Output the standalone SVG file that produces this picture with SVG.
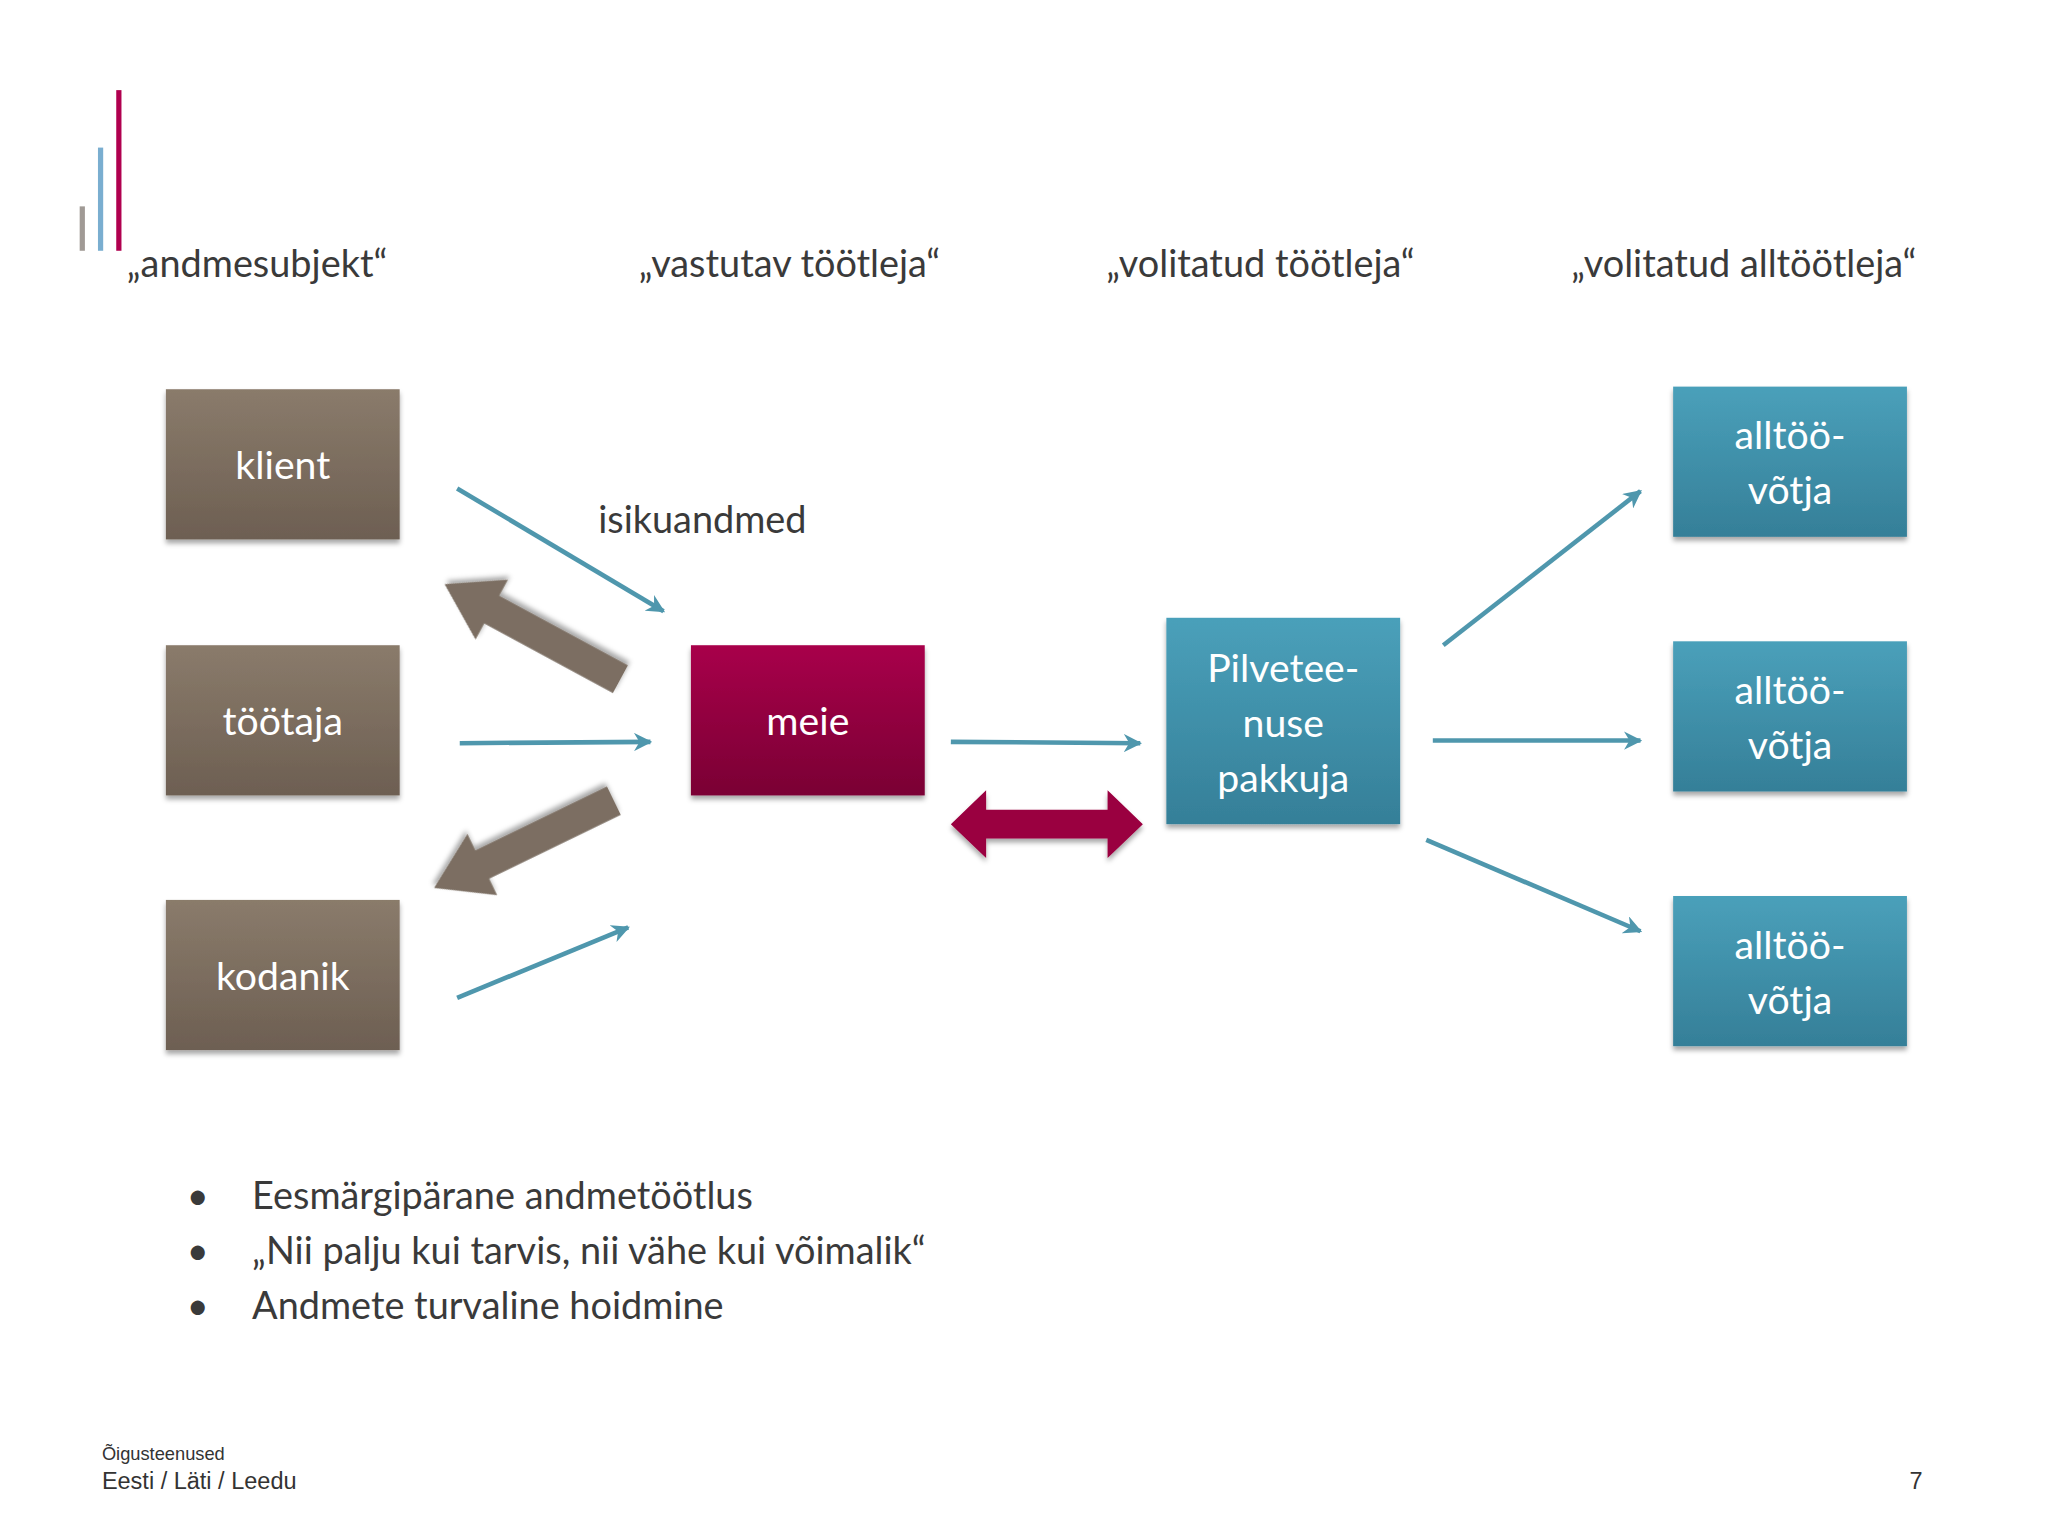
<svg xmlns="http://www.w3.org/2000/svg" width="2048" height="1536" viewBox="0 0 2048 1536">
<defs>
<linearGradient id="gg" x1="0" y1="0" x2="0" y2="1"><stop offset="0" stop-color="#8a7b6b"/><stop offset="1" stop-color="#6d5f52"/></linearGradient>
<linearGradient id="gm" x1="0" y1="0" x2="0" y2="1"><stop offset="0" stop-color="#a8004a"/><stop offset="1" stop-color="#7a0034"/></linearGradient>
<linearGradient id="gb" x1="0" y1="0" x2="0" y2="1"><stop offset="0" stop-color="#4aa0ba"/><stop offset="1" stop-color="#357f98"/></linearGradient>
<marker id="ah" viewBox="0 0 10 10" refX="9" refY="5" markerWidth="4" markerHeight="4" orient="auto"><path d="M0,0 L10,5 L0,10 L3,5 z" fill="#4f97ad"/></marker>
<filter id="sh" x="-10%" y="-10%" width="120%" height="130%"><feDropShadow dx="0" dy="3" stdDeviation="2" flood-opacity="0.35"/></filter>
</defs>
<style>
text{font-family:Lato,"Open Sans",sans-serif;}
.h{font-size:29px;fill:#3a3a3a}
.n{font-size:30px;fill:#ffffff;text-anchor:middle}
.c{stroke:#4f97ad;stroke-width:3.5;fill:none;marker-end:url(#ah)}
</style>
<rect width="2048" height="1536" fill="#ffffff"/>
<g transform="scale(1.30612)">
<rect x="61" y="158" width="4" height="34" fill="#a09a95"/>
<rect x="75" y="113" width="4" height="79" fill="#7aaed0"/>
<rect x="89" y="69" width="4" height="123" fill="#b0004f"/>
<text class="h" x="97" y="212">„andmesubjekt“</text>
<text class="h" x="489" y="212">„vastutav töötleja“</text>
<text class="h" x="847" y="212">„volitatud töötleja“</text>
<text class="h" x="1203" y="212">„volitatud alltöötleja“</text>
<text class="h" x="458" y="408">isikuandmed</text>
<g id="klient"><rect x="127" y="298" width="179" height="115" fill="url(#gg)" filter="url(#sh)"/><text class="n" x="216.5" y="367">klient</text></g>
<g id="tootaja"><rect x="127" y="494" width="179" height="115" fill="url(#gg)" filter="url(#sh)"/><text class="n" x="216.5" y="563">töötaja</text></g>
<g id="kodanik"><rect x="127" y="689" width="179" height="115" fill="url(#gg)" filter="url(#sh)"/><text class="n" x="216.5" y="758">kodanik</text></g>
<g id="meie"><rect x="529" y="494" width="179" height="115" fill="url(#gm)" filter="url(#sh)"/><text class="n" x="618.5" y="563">meie</text></g>
<g id="pilv"><rect x="893" y="473" width="179" height="158" fill="url(#gb)" filter="url(#sh)"/><text class="n" x="982.5" y="522">Pilvetee-</text><text class="n" x="982.5" y="564">nuse</text><text class="n" x="982.5" y="606">pakkuja</text></g>
<g id="a1"><rect x="1281" y="296" width="179" height="115" fill="url(#gb)" filter="url(#sh)"/><text class="n" x="1370.5" y="344">alltöö-</text><text class="n" x="1370.5" y="386">võtja</text></g>
<g id="a2"><rect x="1281" y="491" width="179" height="115" fill="url(#gb)" filter="url(#sh)"/><text class="n" x="1370.5" y="539">alltöö-</text><text class="n" x="1370.5" y="581">võtja</text></g>
<g id="a3"><rect x="1281" y="686" width="179" height="115" fill="url(#gb)" filter="url(#sh)"/><text class="n" x="1370.5" y="734">alltöö-</text><text class="n" x="1370.5" y="776">võtja</text></g>
<g id="connectors">
<line class="c" x1="350" y1="374" x2="508" y2="468"/>
<line class="c" x1="352" y1="569" x2="498" y2="568"/>
<line class="c" x1="350" y1="764" x2="481" y2="710"/>
<line class="c" x1="728" y1="568" x2="873" y2="569"/>
<line class="c" x1="1105" y1="494" x2="1256" y2="376"/>
<line class="c" x1="1097" y1="567" x2="1256" y2="567"/>
<line class="c" x1="1092" y1="643" x2="1256" y2="713"/>
<polygon transform="translate(475,520) rotate(208.4)" points="0,-12 112,-12 112,-26 153,0 112,26 112,12 0,12" fill="#7b6e62" filter="url(#sh)"/>
<polygon transform="translate(470,613) rotate(154.1)" points="0,-12 112,-12 112,-26 153,0 112,26 112,12 0,12" fill="#7b6e62" filter="url(#sh)"/>
<polygon points="728,631 755,605 755,620 848,620 848,605 875,631 848,657 848,642 755,642 755,657" fill="#9a0040" filter="url(#sh)"/>
</g>
<g class="h">
<text x="143" y="926">•</text><text x="193" y="926">Eesmärgipärane andmetöötlus</text>
<text x="143" y="968">•</text><text x="193" y="968">„Nii palju kui tarvis, nii vähe kui võimalik“</text>
<text x="143" y="1010">•</text><text x="193" y="1010">Andmete turvaline hoidmine</text>
</g>
<text x="78" y="1118" style="font-family:'Liberation Sans',sans-serif;font-size:14px;fill:#333">Õigusteenused</text>
<text x="78" y="1140" style="font-family:'Liberation Sans',sans-serif;font-size:18px;fill:#333">Eesti / Läti / Leedu</text>
<text x="1462" y="1140" style="font-family:'Liberation Sans',sans-serif;font-size:18px;fill:#333">7</text>
</g>
</svg>
